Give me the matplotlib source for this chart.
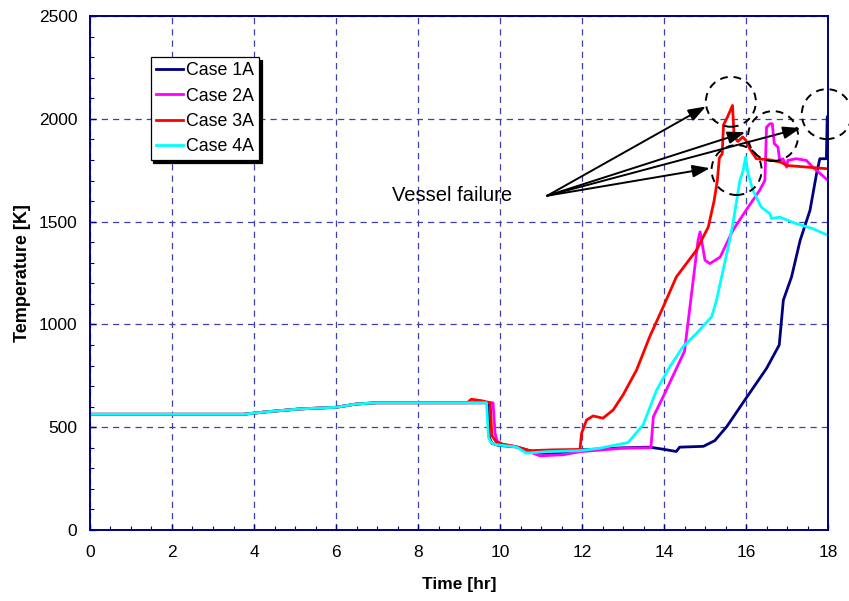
import matplotlib.pyplot as plt
from matplotlib.patches import Ellipse

plt.rcParams['font.family'] = ['Liberation Sans', 'DejaVu Sans']

# common heat-up part before the transient (hr, K)
t_early = [0, 3.74, 4.3, 5.12, 6.0, 6.5, 7.0]
T_early = [563, 563, 575, 589, 597, 613, 619]

# Case 1A
t1 = t_early + [9.6, 9.7, 9.74, 9.8, 9.95, 10.4, 10.9, 11.2, 12.0, 13.0, 13.65, 13.98, 14.3,
                14.38, 14.96, 15.24, 15.53, 15.97, 16.5, 16.81, 16.91, 17.11, 17.32, 17.56,
                17.72, 17.8, 17.96, 17.98, 18.0]
T1 = T_early + [619, 619, 450, 422, 412, 404, 376, 370, 390, 400, 403, 393, 382,
                403, 407, 435, 503, 632, 786, 900, 1118, 1231, 1409, 1555,
                1733, 1806, 1806, 2008, 2015]

# Case 2A
t2 = t_early + [9.3, 9.83, 9.88, 9.93, 10.05, 10.4, 10.97, 11.54, 11.95, 13.0, 13.68, 13.74,
                13.98, 14.5, 14.83, 14.88, 15.0, 15.12, 15.37, 15.68, 16.0, 16.33, 16.46, 16.5,
                16.58, 16.64, 16.69, 16.78, 16.82, 16.9, 16.99, 17.02, 17.22, 17.47, 17.63, 18.0]
T2 = T_early + [619, 619, 470, 432, 418, 405, 361, 366, 381, 398, 400, 551,
                649, 870, 1409, 1450, 1312, 1296, 1328, 1458, 1555, 1652, 1700, 1959,
                1976, 1976, 1879, 1862, 1798, 1806, 1765, 1798, 1806, 1798, 1765, 1700]

# Case 3A
t3 = t_early + [9.2, 9.3, 9.55, 9.7, 9.76, 9.8, 9.9, 10.05, 10.4, 10.73, 11.3, 11.95, 11.99,
                12.11, 12.27, 12.51, 12.76, 13.0, 13.33, 13.65, 13.98, 14.3, 14.79, 15.08,
                15.22, 15.3, 15.35, 15.42, 15.45, 15.55, 15.67, 15.71, 15.8, 15.92, 16.0,
                16.09, 16.25, 16.6, 16.85, 17.0, 18.0]
T3 = T_early + [619, 636, 629, 622, 619, 460, 430, 418, 405, 386, 390, 392, 471,
                535, 555, 544, 584, 657, 778, 940, 1085, 1231, 1361, 1474,
                1600, 1700, 1810, 1830, 1970, 2010, 2065, 1915, 1890, 1912, 1895,
                1854, 1806, 1800, 1789, 1773, 1757]

# Case 4A
t4 = t_early + [9.67, 9.72, 9.78, 9.9, 10.4, 10.64, 11.13, 11.95, 12.43, 13.12, 13.49, 13.82,
                14.14, 14.46, 14.79, 15.16, 15.28, 15.6, 15.68, 15.85, 15.93, 15.99, 16.05,
                16.17, 16.37, 16.58, 16.62, 16.82, 17.23, 17.63, 18.0]
T4 = T_early + [619, 450, 425, 415, 404, 374, 381, 386, 398, 425, 511, 681,
                794, 891, 956, 1037, 1118, 1409, 1490, 1700, 1749, 1814, 1733,
                1652, 1571, 1539, 1515, 1522, 1490, 1466, 1433]

labels = ['Case 1A', 'Case 2A', 'Case 3A', 'Case 4A']
colors = ['#000080', '#ff00ff', '#ff0000', '#00ffff']

# vessel failure markers: circle centres and arrow tips
fail_x = [15.63, 16.66, 17.97, 15.77]
fail_y = [2083, 1916, 2023, 1751]
tip_x = [15.02, 15.98, 17.33, 15.12]
tip_y = [2060, 1935, 1955, 1760]
note_x, note_y = 11.15, 1626

fig = plt.figure(figsize=(8.49, 6.01), dpi=100)
ax = fig.add_axes([0.106, 0.1181, 0.8693, 0.8552])

for t, T, lab, c in zip([t1, t2, t3, t4], [T1, T2, T3, T4], labels, colors):
    ax.plot(t, T, color=c, lw=2.0, label=lab)

ax.set_xlim(0, 18)
ax.set_ylim(0, 2500)
ax.set_xticks(range(0, 19, 2))
ax.set_yticks(range(0, 2501, 500))
ax.set_xticks([x * 0.5 for x in range(37)], minor=True)
ax.set_yticks(range(0, 2501, 100), minor=True)
ax.tick_params(which='both', direction='in', color='#000080')
ax.tick_params(which='major', length=4, width=1, labelsize=12.5)
ax.tick_params(which='minor', length=3, width=0.8)
ax.tick_params(axis='x', pad=11)
ax.tick_params(axis='y', pad=9)
ax.grid(True, which='major', color='#4040a8', lw=0.9, linestyle=(0, (5, 4)))
for s in ax.spines.values():
    s.set_color('#000080')
    s.set_linewidth(1.4)

ax.set_xlabel('Time [hr]', fontsize=12.5, fontweight='bold')
ax.set_ylabel('Temperature [K]', fontsize=13, fontweight='bold')
ax.xaxis.set_label_coords(0.5, -0.092)
ax.yaxis.set_label_coords(-0.08, 0.5)

leg = ax.legend(loc='upper left', bbox_to_anchor=(0.082, 0.92), borderaxespad=0,
                fontsize=12.8, fancybox=False, shadow={'color': 'black', 'alpha': 1},
                handlelength=1.5, handletextpad=0.2, labelspacing=0.46, borderpad=0.3,
                framealpha=1, edgecolor='black')
leg.get_frame().set_linewidth(0.9)

ax.text(7.37, 1629, 'Vessel failure', fontsize=14.5, va='center', ha='left')
for x, y in zip(tip_x, tip_y):
    ax.annotate('', xy=(x, y), xytext=(note_x, note_y),
                arrowprops=dict(arrowstyle='-|>,head_length=0.7,head_width=0.25',
                                mutation_scale=15, lw=1.4, color='black',
                                shrinkA=0, shrinkB=0))
for x, y in zip(fail_x, fail_y):
    ax.add_patch(Ellipse((x, y), 1.22, 243, fill=False, ec='black', lw=1.4,
                         linestyle=(0, (4, 3)), clip_on=False, zorder=5))

fig.savefig('out.png', dpi=100)
